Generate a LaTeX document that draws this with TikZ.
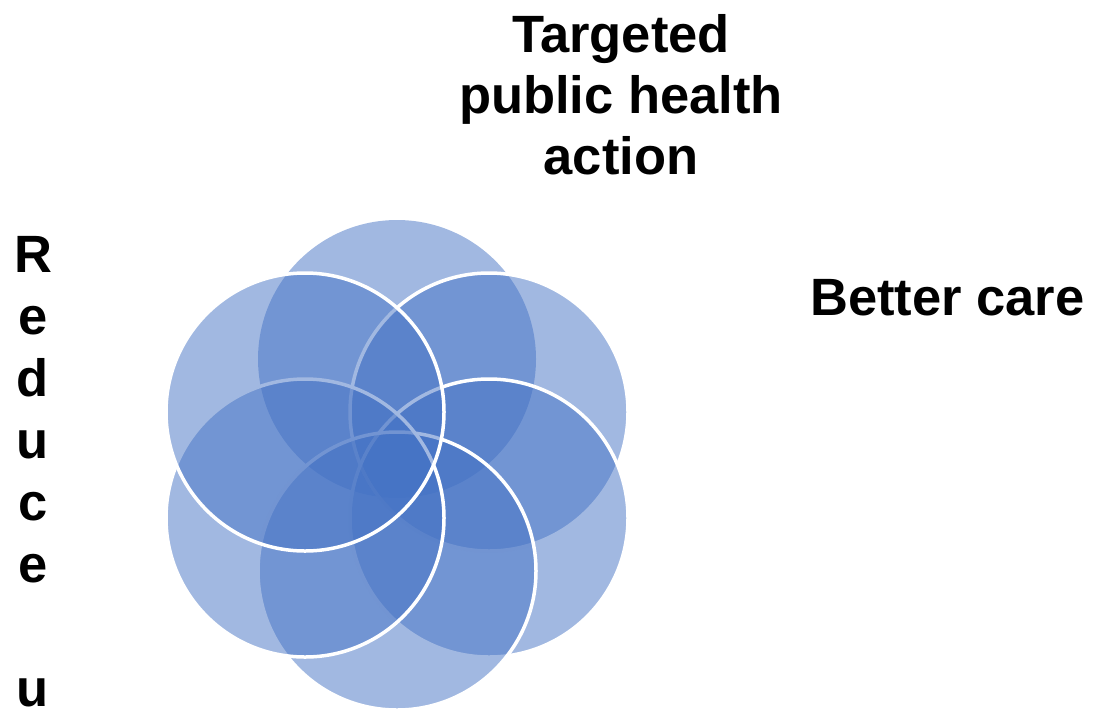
\documentclass[tikz,border=0pt]{standalone}
\usepackage{fontspec}
\setmainfont{Liberation Sans}
\definecolor{petalblue}{HTML}{4472C4}
\begin{document}
\begin{tikzpicture}[x=1pt,y=-1pt,
  petal/.style={fill=petalblue, fill opacity=0.5},
  petalline/.style={petal, draw=white, line width=3.5pt},
  lbl/.style={font=\bfseries\fontsize{52.5}{61}\selectfont, inner sep=0pt, align=center, text=black},
  vlbl/.style={font=\bfseries\fontsize{52.5}{62}\selectfont, inner sep=0pt, align=center, text=black}]
\useasboundingbox (0,0) rectangle (1094,710);
% six petals of the flower, in drawing order
\path[petal]     (397,359) circle[radius=139];
\path[petalline] (489,412) circle[radius=139];
\path[petalline] (489,518) circle[radius=139];
\path[petalline] (397,571) circle[radius=139];
\path[petalline] (305,518) circle[radius=139];
\path[petalline] (305,412) circle[radius=139];
% labels (base anchor = baseline of the last line)
\node[lbl, anchor=base] (top) at (621,174) {Targeted\\public health\\action};
\node[lbl, anchor=base west] (right) at (810,315) {Better care};
\node[vlbl, anchor=base] (left) at (33,706) {R\\e\\d\\u\\c\\e\\\mbox{}\\u};
\end{tikzpicture}
\end{document}
